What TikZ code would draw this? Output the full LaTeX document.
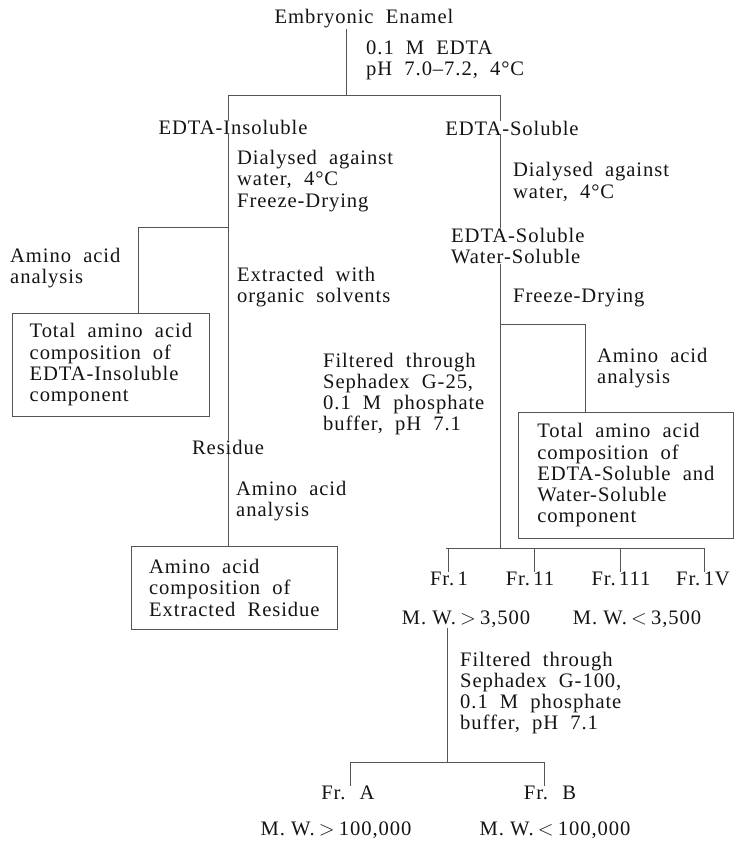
\documentclass[tikz,border=0pt]{standalone}
\usepackage{fontspec}
\setmainfont{Liberation Serif}[LetterSpace=4.5,WordSpace=2]
\usetikzlibrary{positioning,calc}
\definecolor{inkgray}{RGB}{20,20,20}
\definecolor{rulegray}{RGB}{85,85,85}
\newcommand{\flowfont}{\fontsize{20.6}{21.3}\selectfont}
\newcommand{\MW}{M.\hspace{0.3em}W.\hspace{0.2em}}
\tikzset{
  stage/.style={font=\flowfont, text=inkgray, inner sep=0pt, align=center},
  cond/.style={font=\flowfont, text=inkgray, inner sep=0pt, align=left, anchor=west},
  resbox/.style={draw=rulegray, line width=0.7pt, font=\flowfont, text=inkgray,
                 align=left, anchor=north west, inner sep=0pt},
  flow/.style={draw=rulegray, line width=0.7pt},
}
\newcommand{\CXL}{228}
\newcommand{\CXR}{500}
\newcommand{\CXF}{447}

\begin{document}
\begin{tikzpicture}[x=1pt,y=-1pt]
    \useasboundingbox (0,0) rectangle (737,842);

      \node[stage] (enamel) at (364,19) {Embryonic Enamel};
      \node[cond] (edta) at (366,60) {0.1 M EDTA\\pH 7.0--7.2, 4°C};
      \node[stage] (insol) at (233,127) {EDTA-Insoluble};
      \node[stage] (sol) at (512,128) {EDTA-Soluble};

      \coordinate (splitL) at (\CXL,95);
      \coordinate (splitR) at (\CXR,95);
      \draw[flow] (enamel.south -| 346,0) -- (splitL -| 346,0);
      \draw[flow] (insol.north -| splitL) -- (splitL) -- (splitR) -- (sol.north -| splitR);

      \node[cond] (dialL) at (237,181) {Dialysed against\\water, 4°C\\Freeze-Drying};
      \node[cond] (aminoL) at (10,268) {Amino acid\\analysis};
      \node[cond] (extract) at (237,287) {Extracted with\\organic solvents};
      \node[resbox, minimum width=197pt, minimum height=103pt] (totalins) at (12,313)
        {Total amino acid\\composition of\\EDTA-Insoluble\\component};
      \node[stage] (residue) at (228,447) {Residue};
      \node[cond] (aminoRes) at (236,501) {Amino acid\\analysis};
      \node[resbox, minimum width=206pt, minimum height=83pt] (extres) at (131,546)
        {Amino acid\\composition of\\Extracted Residue};

      \coordinate (brL) at (\CXL,227);
      \coordinate (brLx) at (138,227);
      \draw[flow] (insol.south -| splitL) -- (residue.north -| splitL);
      \draw[flow] (brL) -- (brLx) -- (brLx |- totalins.north);
      \draw[flow] (residue.south -| splitL) -- (extres.north -| splitL);

      \node[cond] (dialR) at (513,182) {Dialysed against\\water, 4°C};
      \node[cond] (solw) at (451,246) {EDTA-Soluble\\Water-Soluble};
      \node[cond] (freezeR) at (513,298) {Freeze-Drying};
      \node[cond] (aminoR) at (597,368) {Amino acid\\analysis};
      \node[resbox, minimum width=215pt, minimum height=126pt] (totalsol) at (518,412)
        {Total amino acid\\composition of\\EDTA-Soluble and\\Water-Soluble\\component};
      \node[cond] (gel25) at (323,394) {Filtered through\\Sephadex G-25,\\0.1 M phosphate\\buffer, pH 7.1};

      \coordinate (brR) at (\CXR,324);
      \coordinate (brRx) at (585,324);
      \coordinate (barL) at (446,548);
      \coordinate (barR) at (704,548);
      \draw[flow] (sol.south -| splitR) -- (solw.north -| splitR);
      \draw[flow] (solw.south -| splitR) -- (barL -| splitR);
      \draw[flow] (brR) -- (brRx) -- (brRx |- totalsol.north);
      \draw[flow] (barL) -- (barR);

      \foreach \x/\lx/\n/\t in {448/449/1/1, 534/530/2/11, 620/621/3/111, 704/703/4/1V} {
        \node[stage] (fr\n) at (\lx,579) {Fr.\,\t};
        \coordinate (drop\n) at (\x,548);
        \draw[flow] (drop\n) -- (drop\n |- fr\n.north);
      }

      \node[stage] (mwhi) at (466,619) {\MW$>$\hspace{0.2em}3,500};
      \node[stage] (mwlo) at (637,619) {\MW$<$\hspace{0.2em}3,500};
      \node[cond] (gel100) at (460,693) {Filtered through\\Sephadex G-100,\\0.1 M phosphate\\buffer, pH 7.1};

      \coordinate (barAB) at (\CXF,762);
      \coordinate (barA) at (350,762);
      \coordinate (barB) at (544,762);
      \node[stage] (frA) at (348,793) {Fr. A};
      \node[stage] (frB) at (550,793) {Fr. B};
      \node[stage] (mwA) at (336,830) {\MW$>$\hspace{0.2em}100,000};
      \node[stage] (mwB) at (555,830) {\MW$<$\hspace{0.2em}100,000};

      \draw[flow] (mwhi.south -| barAB) -- (barAB);
      \draw[flow] (frA.north -| barA) -- (barA) -- (barB) -- (frB.north -| barB);

\end{tikzpicture}
\end{document}
